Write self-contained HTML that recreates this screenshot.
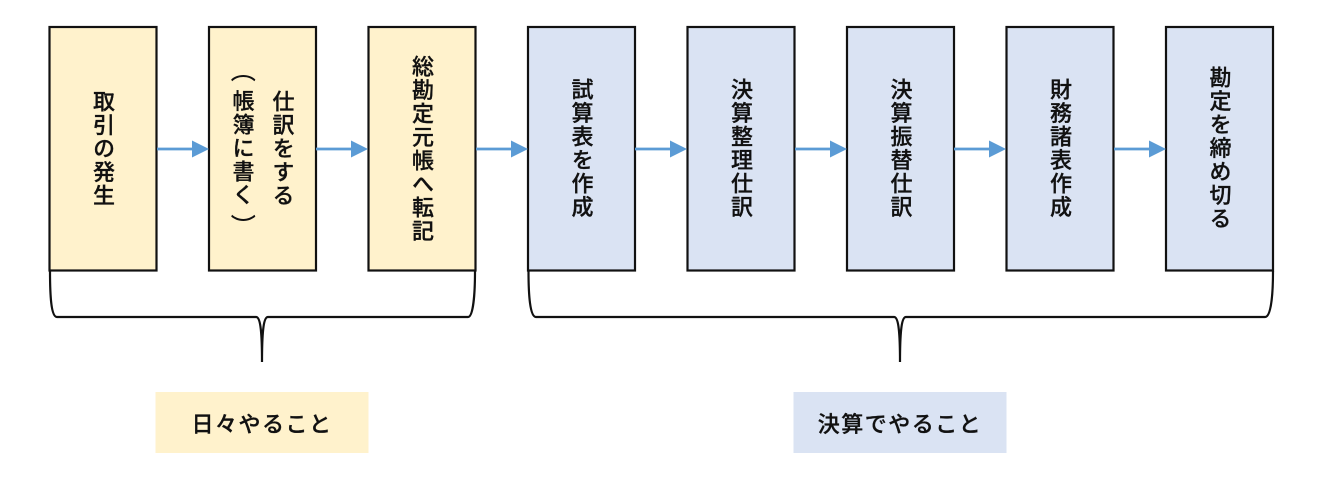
<!DOCTYPE html>
<html lang="ja">
<head>
<meta charset="utf-8">
<style>
html,body{margin:0;padding:0;background:#fff;}
#c{position:relative;width:1320px;height:482px;overflow:hidden;background:#fff;font-family:"Liberation Sans","Noto Sans CJK JP",sans-serif;color:#111;filter:blur(0.35px);}
svg{position:absolute;left:0;top:0;}
.v{position:absolute;top:27px;height:243px;display:flex;align-items:center;justify-content:center;}
.v div{position:relative;left:-1px;writing-mode:vertical-rl;font-size:22px;font-weight:500;letter-spacing:1.5px;line-height:40px;white-space:nowrap;text-align:center;-webkit-text-stroke:0.3px #111;}
.p{display:inline-block;transform:translate(-1px,-6px) scaleX(1.15);-webkit-text-stroke:0;}
.q{display:inline-block;transform:translate(-1px,7px) scaleX(1.15);-webkit-text-stroke:0;}
.l{position:absolute;top:392px;height:61px;width:213px;display:flex;align-items:center;justify-content:center;font-size:22px;font-weight:500;letter-spacing:1.5px;white-space:nowrap;-webkit-text-stroke:0.3px #111;}
</style>
</head>
<body>
<div id="c">
<svg width="1320" height="482" viewBox="0 0 1320 482">
  <g stroke="#111" stroke-width="2.2">
    <rect x="49.5" y="27" width="107" height="243.500" fill="#fff2cc"/>
    <rect x="209" y="27" width="107" height="243.500" fill="#fff2cc"/>
    <rect x="368.5" y="27" width="107" height="243.500" fill="#fff2cc"/>
    <rect x="528" y="27" width="107" height="243.500" fill="#dae3f3"/>
    <rect x="687.5" y="27" width="107" height="243.500" fill="#dae3f3"/>
    <rect x="847" y="27" width="107" height="243.500" fill="#dae3f3"/>
    <rect x="1006.5" y="27" width="107" height="243.500" fill="#dae3f3"/>
    <rect x="1166" y="27" width="107" height="243.500" fill="#dae3f3"/>
  </g>
  <g fill="none" stroke="#111" stroke-width="2.2">
    <path d="M50 271C50 295 51 317 57 317H256C260 317 262 328 262 362C262 328 264 317 268 317H468C473 317 475 295 475 271"/>
    <path d="M528.500 271C528.500 295 530 317 536 317H894C898 317 900 328 900 362C900 328 902 317 906 317H1265C1271 317 1273 295 1273 271"/>
  </g>
  <g stroke="#5b9bd5" stroke-width="2.700" fill="none">
    <path d="M157 149H194"/>
    <path d="M316 149H353"/>
    <path d="M476 149H513"/>
    <path d="M635 149H672"/>
    <path d="M795 149H832"/>
    <path d="M954 149H991"/>
    <path d="M1114 149H1151"/>
  </g>
  <g fill="#5b9bd5">
    <polygon points="192,140.500 209,149 192,157.500"/>
    <polygon points="351,140.500 368,149 351,157.500"/>
    <polygon points="511,140.500 528,149 511,157.500"/>
    <polygon points="670,140.500 687,149 670,157.500"/>
    <polygon points="830,140.500 847,149 830,157.500"/>
    <polygon points="989,140.500 1006,149 989,157.500"/>
    <polygon points="1149,140.500 1166,149 1149,157.500"/>
  </g>
  <rect x="155.500" y="392" width="213" height="61" fill="#fff2cc"/>
  <rect x="793.500" y="392" width="213" height="61" fill="#dae3f3"/>
</svg>
<div class="v" style="left:49.500px;width:107px;"><div>取引の発生</div></div>
<div class="v" style="left:209px;width:107px;"><div>仕訳をする<br><span class="p">（</span>帳簿に書く<span class="q">）</span></div></div>
<div class="v" style="left:368.500px;width:107px;"><div>総勘定元帳へ転記</div></div>
<div class="v" style="left:528px;width:107px;"><div>試算表を作成</div></div>
<div class="v" style="left:687.500px;width:107px;"><div>決算整理仕訳</div></div>
<div class="v" style="left:847px;width:107px;"><div>決算振替仕訳</div></div>
<div class="v" style="left:1006.500px;width:107px;"><div>財務諸表作成</div></div>
<div class="v" style="left:1166px;width:107px;"><div>勘定を締め切る</div></div>
<div class="l" style="left:155.500px;">日々やること</div>
<div class="l" style="left:793.500px;">決算でやること</div>
</div>
</body>
</html>
